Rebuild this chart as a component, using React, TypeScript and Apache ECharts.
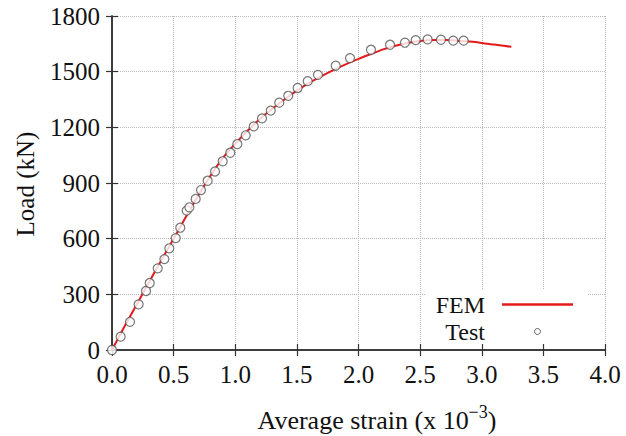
import React, { useEffect, useRef } from "react";
import * as echarts from "echarts";

const xTicks = [0, 0.5, 1, 1.5, 2, 2.5, 3, 3.5, 4];
const yTicks = [0, 300, 600, 900, 1200, 1500, 1800];

const femStrain = [0, 0.1, 0.2, 0.3, 0.4, 0.5, 0.6, 0.7, 0.8, 0.9, 1.0, 1.1, 1.2, 1.3, 1.4, 1.5, 1.6, 1.7, 1.8, 1.9, 2.0, 2.1, 2.2, 2.3, 2.4, 2.5, 2.6, 2.7, 2.8, 2.9, 3.0, 3.1, 3.24];
const femLoad = [0, 125, 245, 365, 483, 600, 718, 833, 940, 1035, 1112, 1182, 1245, 1300, 1350, 1398, 1440, 1476, 1510, 1541, 1569, 1595, 1620, 1640, 1655, 1665, 1670, 1670, 1667, 1662, 1655, 1646, 1634];

const testStrain = [0, 0.07, 0.146, 0.216, 0.276, 0.306, 0.371, 0.425, 0.465, 0.517, 0.554, 0.606, 0.628, 0.679, 0.722, 0.776, 0.836, 0.898, 0.96, 1.017, 1.085, 1.15, 1.217, 1.288, 1.357, 1.43, 1.506, 1.588, 1.671, 1.815, 1.931, 2.101, 2.256, 2.377, 2.464, 2.561, 2.669, 2.769, 2.853];
const testLoad = [0, 72, 152, 246, 318, 361, 440, 490, 548, 603, 659, 751, 769, 814, 862, 912, 962, 1017, 1063, 1110, 1157, 1205, 1248, 1290, 1333, 1370, 1412, 1449, 1483, 1532, 1573, 1618, 1645, 1656, 1670, 1674, 1672, 1667, 1667];

const FONT = "Liberation Serif";
const RED = "#e41a1c";

export default function App() {
  const ref = useRef<HTMLDivElement>(null);
  useEffect(() => {
    if (!ref.current) return;
    const chart = echarts.init(ref.current, undefined, { renderer: "svg" });
    const xMin = xTicks[0];
    const xMax = xTicks[xTicks.length - 1];
    const yMin = yTicks[0];
    const yMax = yTicks[yTicks.length - 1];
    const axisLine = { show: true, lineStyle: { color: "#333", width: 1.5 } };
    const tick = { show: true, inside: true, length: 6, lineStyle: { color: "#333", width: 1.2 } };
    const split = { show: true, lineStyle: { type: "dotted" as const, color: "#b8b8b8", width: 1 } };
    chart.setOption({
      animation: false,
      backgroundColor: "#fff",
      textStyle: { fontFamily: FONT },
      grid: { left: 112, right: 21, top: 16, bottom: 86, containLabel: false },
      legend: {
        orient: "vertical",
        align: "right",
        right: 39,
        top: 290,
        padding: [2, 14, 0, 10],
        backgroundColor: "#fff",
        itemWidth: 71,
        itemHeight: 6,
        itemGap: 2,
        textStyle: { fontFamily: FONT, fontSize: 24, lineHeight: 25, color: "#111", padding: [0, 12, 0, 0] },
        data: [
          { name: "FEM", icon: "path://M0,0h71v2.5h-71z", itemStyle: { color: RED, borderWidth: 0 } },
          { name: "Test", icon: "circle", itemStyle: { color: "#fff", borderColor: "#444", borderWidth: 1 } },
        ],
      },
      xAxis: [
        {
          type: "value",
          min: xMin,
          max: xMax,
          interval: 0.5,
          axisLine,
          axisTick: tick,
          splitLine: split,
          axisLabel: {
            show: true,
            margin: 12,
            fontFamily: FONT,
            fontSize: 25,
            color: "#111",
            formatter: (v: number) => v.toFixed(1),
          },
        },
        {
          type: "value",
          position: "top",
          min: xMin,
          max: xMax,
          interval: 0.5,
          axisLine,
          axisTick: tick,
          splitLine: { show: false },
          axisLabel: { show: false },
        },
      ],
      yAxis: [
        {
          type: "value",
          min: yMin,
          max: yMax,
          interval: 300,
          axisLine,
          axisTick: tick,
          splitLine: split,
          axisLabel: {
            show: true,
            margin: 12,
            fontFamily: FONT,
            fontSize: 25,
            color: "#111",
            formatter: (v: number) => String(v),
          },
        },
        {
          type: "value",
          position: "right",
          min: yMin,
          max: yMax,
          interval: 300,
          axisLine,
          axisTick: tick,
          splitLine: { show: false },
          axisLabel: { show: false },
        },
      ],
      graphic: [
        {
          type: "text",
          x: 377,
          y: 403,
          style: {
            text: "{a|Average strain (x 10}{s|−3}{a|)}",
            fontFamily: FONT,
            fill: "#111",
            align: "center",
            rich: {
              a: { fontFamily: FONT, fontSize: 26, lineHeight: 30, verticalAlign: "bottom", fill: "#111" },
              s: { fontFamily: FONT, fontSize: 18, lineHeight: 18, verticalAlign: "top", fill: "#111" },
            },
          },
        },
        {
          type: "text",
          x: 25,
          y: 184,
          rotation: Math.PI / 2,
          style: {
            text: "Load (kN)",
            fontFamily: FONT,
            fontSize: 25,
            fill: "#111",
            align: "center",
            verticalAlign: "middle",
          },
        },
      ],
      series: [
        {
          name: "FEM",
          type: "line",
          symbol: "none",
          smooth: 0.3,
          data: femStrain.map((x, i) => [x, femLoad[i]]),
          lineStyle: { color: RED, width: 2 },
          itemStyle: { color: RED },
          z: 2,
        },
        {
          name: "Test",
          type: "scatter",
          symbol: "circle",
          symbolSize: 9,
          clip: false,
          data: testStrain.map((x, i) => [x, testLoad[i]]),
          itemStyle: { color: "#fff", borderColor: "#555", borderWidth: 1.2 },
          z: 3,
        },
      ],
    });
    return () => chart.dispose();
  }, []);
  return (
    <div
      ref={ref}
      style={{ position: "fixed", left: 0, top: 0, width: 626, height: 436 }}
    />
  );
}
